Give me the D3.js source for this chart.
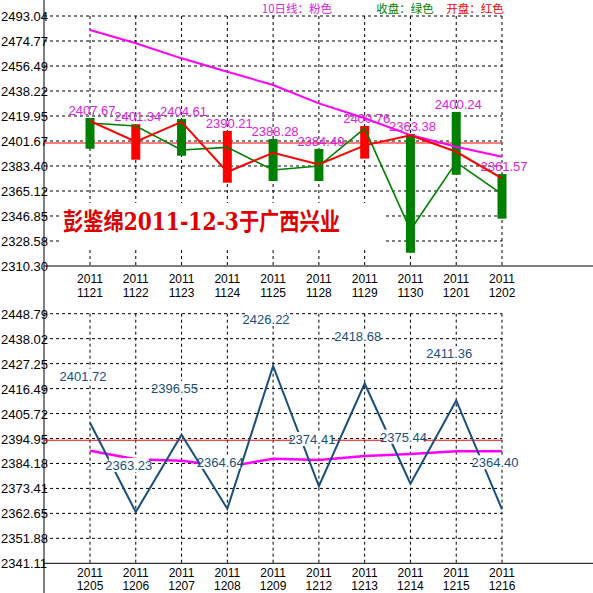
<!DOCTYPE html>
<html><head><meta charset="utf-8">
<script src="https://cdn.jsdelivr.net/npm/d3@7"></script>
<style>body{margin:0;background:#fff}svg{display:block}</style></head>
<body><svg id="c" width="593" height="593"></svg>
<script>
const topDates = ["1121","1122","1123","1124","1125","1128","1129","1130","1201","1202"];
const topTicks = [2493.04,2474.77,2456.49,2438.22,2419.95,2401.67,2383.40,2365.12,2346.85,2328.58,2310.30];
const highs = [2418.5,2413.9,2417.8,2409.0,2403.1,2395.8,2412.6,2406.8,2422.9,2377.5];
const lows  = [2396.0,2388.0,2390.9,2371.2,2372.4,2372.4,2388.8,2320.0,2377.0,2344.9];
const opens = [2416.3,2401.2,2415.6,2379.0,2393.1,2384.6,2398.5,2405.8,2393.8,2374.4];
const closes= [2414.8,2412.6,2395.1,2397.0,2380.5,2383.4,2410.9,2336.6,2386.1,2362.9];
const ma10Top=[2482.8,2473.1,2462.1,2452.3,2442.6,2429.2,2418.3,2406.0,2397.5,2390.2];
const topLabels=["2407.67","2401.34","2404.61","2390.21","2388.28","2384.49","2400.76","2363.38","2400.24","2361.57"];
const topRef = 2400.2;

const botDates = ["1205","1206","1207","1208","1209","1212","1213","1214","1215","1216"];
const botTicks = [2448.79,2438.02,2427.25,2416.49,2405.72,2394.95,2384.18,2373.41,2362.65,2351.88,2341.11];
const botValues=[2401.72,2363.23,2396.55,2364.64,2426.22,2374.41,2418.68,2375.44,2411.36,2364.40];
const ma10Bot = [2389.7,2386.0,2385.3,2382.8,2386.2,2385.7,2387.4,2388.3,2389.4,2389.5];
const botRef = 2394.2;

const svg=d3.select("#c");
const F="Arial, 'Liberation Sans', sans-serif";
const x=d3.scalePoint().domain(d3.range(10)).range([90,502]);

function panel(ticks,yTop,yBot,dates,labelY){
  const y=d3.scaleLinear().domain([ticks[ticks.length-1],ticks[0]]).range([yBot,yTop]);
  const g=svg.append("g");
  g.selectAll(".h").data(ticks.slice(0,-1)).join("line")
    .attr("x1",44).attr("x2",502).attr("y1",d=>y(d)).attr("y2",d=>y(d))
    .attr("stroke","#000").attr("stroke-dasharray","3,3");
  g.selectAll(".v").data(d3.range(10)).join("line")
    .attr("x1",d=>x(d)).attr("x2",d=>x(d)).attr("y1",yTop).attr("y2",yBot)
    .attr("stroke","#000").attr("stroke-dasharray","3,3");
  g.selectAll(".t").data(ticks).join("text").attr("x",1).attr("y",d=>y(d)+5)
    .attr("font-family",F).attr("font-size",13).text(d=>d.toFixed(2));
  svg.append("line").attr("x1",44).attr("x2",593).attr("y1",yBot).attr("y2",yBot).attr("stroke","#000");
  dates.forEach((d,i)=>{
    svg.append("text").attr("x",x(i)).attr("y",labelY).attr("text-anchor","middle").attr("font-family",F).attr("font-size",12).text("2011");
    svg.append("text").attr("x",x(i)).attr("y",labelY+13.5).attr("text-anchor","middle").attr("font-family",F).attr("font-size",12).text(d);
  });
  return y;
}

const yT=panel(topTicks,16,266,topDates,283);
const yB=panel(botTicks,313.7,563.3,botDates,576.5);
svg.append("line").attr("x1",44).attr("x2",44).attr("y1",0).attr("y2",593).attr("stroke","#000");

svg.append("rect").attr("x",62).attr("y",203).attr("width",321).attr("height",44).attr("fill","#fff");

svg.append("line").attr("x1",44).attr("x2",502).attr("y1",yT(topRef)).attr("y2",yT(topRef)).attr("stroke","#f00");
svg.selectAll(".bar").data(d3.range(10)).join("rect")
  .attr("x",i=>x(i)-4.5).attr("width",9)
  .attr("y",i=>yT(highs[i])).attr("height",i=>yT(lows[i])-yT(highs[i]))
  .attr("fill",i=>closes[i]>opens[i]?"#f00":"#008000");
const ln=d3.line().x((d,i)=>x(i));
svg.selectAll(".tl").data(topLabels).join("text").attr("x",(d,i)=>x(i)+2).attr("y",(d,i)=>yT(highs[i])-3)
  .attr("text-anchor","middle").attr("font-family",F).attr("font-size",13).attr("fill","#e020e0").text(d=>d);
svg.append("path").datum(ma10Top).attr("d",ln.y(d=>yT(d))).attr("fill","none").attr("stroke","#f0f").attr("stroke-width",2);
svg.append("path").datum(closes).attr("d",ln.y(d=>yT(d))).attr("fill","none").attr("stroke","#008000").attr("stroke-width",1.6);
svg.append("path").datum(opens).attr("d",ln.y(d=>yT(d))).attr("fill","none").attr("stroke","#f00").attr("stroke-width",2);

svg.append("text").attr("x",63).attr("y",230).attr("font-family","'DejaVu Serif', 'Noto Sans CJK SC', serif")
  .attr("font-weight","bold").attr("font-size",24).attr("fill","#e00000").attr("textLength",277).attr("lengthAdjust","spacingAndGlyphs").text("彭鉴绵2011-12-3于广西兴业");

[["10日线：粉色",297,"#e020e0"],["收盘：绿色",405,"#008000"],["开盘：红色",475,"#f00"]].forEach(l=>{
  svg.append("text").attr("x",l[1]).attr("y",13).attr("text-anchor","middle").attr("font-family","'Noto Sans CJK SC', sans-serif").attr("font-size",11.5).attr("fill",l[2]).text(l[0]);
});

svg.append("line").attr("x1",44).attr("x2",502).attr("y1",yB(botRef)).attr("y2",yB(botRef)).attr("stroke","#f00");
svg.append("path").datum(ma10Bot).attr("d",ln.y(d=>yB(d))).attr("fill","none").attr("stroke","#f0f").attr("stroke-width",2.5);
svg.append("path").datum(botValues).attr("d",ln.y(d=>yB(d))).attr("fill","none").attr("stroke","#1a4f7e").attr("stroke-width",2);
const bl=svg.selectAll(".bl").data(botValues).join("g").attr("transform",(d,i)=>`translate(${x(i)-7},${yB(d)-47})`);
bl.append("rect").attr("x",-20).attr("y",-7).attr("width",40).attr("height",14).attr("fill","#fff");
bl.append("text").attr("y",5).attr("text-anchor","middle").attr("font-family",F).attr("font-size",13).attr("fill","#1a4f7e").text(d=>d.toFixed(2));
</script></body></html>
